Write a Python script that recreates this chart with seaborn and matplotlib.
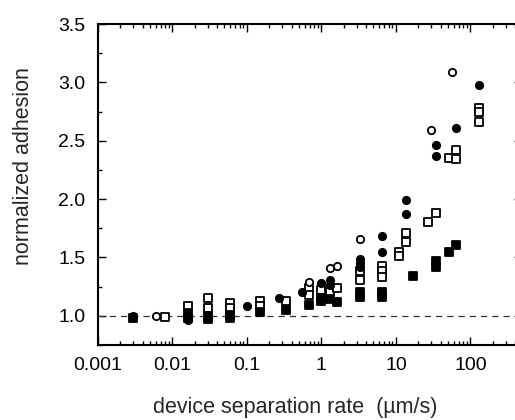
import numpy as np
import pandas as pd
import seaborn as sns
import matplotlib
matplotlib.use("Agg")
import matplotlib.pyplot as plt
from matplotlib.ticker import LogLocator, FuncFormatter, MultipleLocator

# (rate in um/s, normalized adhesion)
filled_circle_rate = [0.003, 0.016, 0.03, 0.06, 0.1, 0.27, 0.55, 1.0, 1.3, 1.3,
                      3.3, 3.3, 3.3, 6.5, 6.5, 13.5, 13.5, 35, 35, 65, 130]
filled_circle_adh = [1.00, 0.96, 0.98, 0.99, 1.08, 1.15, 1.20, 1.28, 1.31, 1.26,
                     1.49, 1.45, 1.42, 1.68, 1.55, 1.99, 1.87, 2.46, 2.37, 2.61, 2.98]

open_circle_rate = [0.006, 0.68, 1.3, 1.6, 3.3, 30, 57]
open_circle_adh = [1.00, 1.29, 1.41, 1.43, 1.66, 2.59, 3.09]

open_square_rate = [0.008, 0.016, 0.03, 0.03, 0.06, 0.06, 0.15, 0.15, 0.34, 0.68,
                    0.68, 1.0, 1.3, 1.6, 3.3, 3.3, 6.5, 6.5, 6.5, 11, 11, 13.5,
                    13.5, 27, 35, 52, 65, 65, 130, 130, 130]
open_square_adh = [0.99, 1.08, 1.15, 1.07, 1.11, 1.07, 1.13, 1.08, 1.13, 1.24,
                   1.18, 1.22, 1.20, 1.24, 1.38, 1.31, 1.43, 1.38, 1.33, 1.55, 1.51, 1.71,
                   1.63, 1.80, 1.88, 2.35, 2.42, 2.34, 2.78, 2.75, 2.66]

filled_square_rate = [0.003, 0.016, 0.016, 0.03, 0.03, 0.06, 0.06, 0.15, 0.34, 0.68,
                      1.0, 1.0, 1.3, 1.6, 3.3, 3.3, 6.5, 6.5, 17, 35, 35, 52, 65]
filled_square_adh = [0.98, 1.02, 0.98, 1.00, 0.97, 1.01, 0.98, 1.03, 1.05, 1.09,
                     1.15, 1.13, 1.14, 1.12, 1.20, 1.16, 1.20, 1.16, 1.34, 1.47, 1.42, 1.55, 1.61]

x_ticks = [0.001, 0.01, 0.1, 1, 10, 100]
y_ticks = [1.0, 1.5, 2.0, 2.5, 3.0, 3.5]

sns.set_theme(style="ticks")
plt.rcParams['font.family'] = ['Liberation Sans', 'DejaVu Sans']

fig = plt.figure(figsize=(5.15, 4.2), dpi=100)
ax = fig.add_axes([0.190, 0.1786, 0.8245, 0.764])

# series: (x, y, marker, face colour)
series = [
    (open_square_rate, open_square_adh, 's', 'white'),
    (filled_square_rate, filled_square_adh, 's', 'black'),
    (open_circle_rate, open_circle_adh, 'o', 'white'),
    (filled_circle_rate, filled_circle_adh, 'o', 'black'),
]
for xs, ys, mk, fc in series:
    df = pd.DataFrame({'rate': xs, 'adhesion': ys})
    sns.scatterplot(data=df, x='rate', y='adhesion', marker=mk, s=28,
                    facecolor=fc, edgecolor='black', linewidth=1.3, ax=ax, zorder=3)

ax.axhline(1.0, color='#333333', lw=0.9, ls=(0, (5, 4)), zorder=1)

ax.set_xscale('log')
ax.set_xlim(0.001, 500)
ax.set_ylim(0.75, 3.5)
ax.xaxis.set_minor_locator(LogLocator(base=10, subs=np.arange(2, 10), numticks=12))
ax.set_xticks(x_ticks)
ax.xaxis.set_major_formatter(FuncFormatter(lambda v, p: '%g' % v))
ax.set_yticks(y_ticks)
ax.yaxis.set_minor_locator(MultipleLocator(0.25))
ax.yaxis.set_major_formatter(FuncFormatter(lambda v, p: '%.1f' % v))

ax.tick_params(which='both', direction='in', top=True, right=True,
               width=1.0, labelsize=14, color='black', labelcolor='black')
ax.tick_params(which='major', length=6)
ax.tick_params(which='minor', length=3)
ax.tick_params(axis='x', pad=9)
ax.tick_params(axis='y', pad=9)
for sp in ax.spines.values():
    sp.set_linewidth(1.5)
    sp.set_color('black')

ax.set_xlabel('device separation rate  (\u00b5m/s)', fontsize=15.5)
ax.set_ylabel('normalized adhesion', fontsize=15.5)
ax.xaxis.set_label_coords(0.464, -0.162)
ax.yaxis.set_label_coords(-0.150, 0.558)

fig.savefig('out.png', dpi=100)
